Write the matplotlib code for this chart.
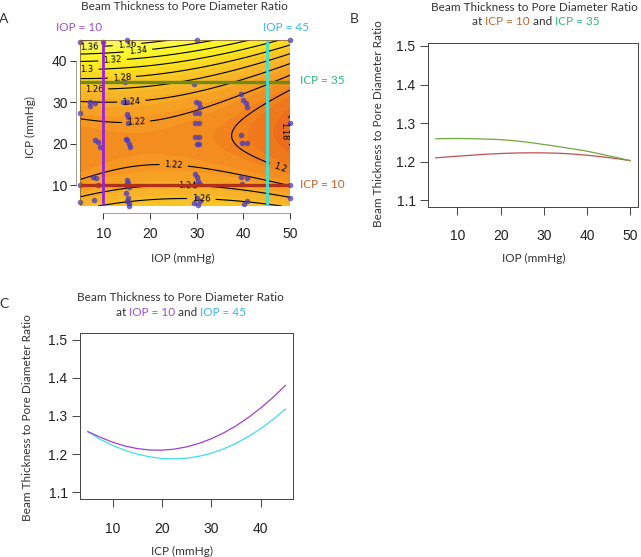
import numpy as np
import matplotlib
matplotlib.use("Agg")
import matplotlib.pyplot as plt
from matplotlib.colors import LinearSegmentedColormap
from matplotlib.patches import Rectangle

W, H = 641, 557

# ---------------- data ----------------
# Panel A: fitted response surface  f(IOP, ICP) = m(IOP) + b(IOP) * (ICP - y0(IOP))^2
surf_m0, surf_mk, surf_mx = 1.2131, 3.67e-5, 18.6      # minimum along ICP: m0 - mk*(IOP-mx)^2
surf_y00, surf_y01 = 18.2, 0.10                         # ICP of minimum: y00 + y01*IOP
surf_b0, surf_b1 = 0.000256, -2.6e-7                    # curvature along ICP: b0 + b1*IOP
contour_levels = [1.18, 1.20, 1.22, 1.24, 1.26, 1.28, 1.30, 1.32, 1.34, 1.36, 1.38]

# observed samples (IOP, ICP)
obs_iop = [5, 10, 15, 30, 50, 14.6, 29.4, 5, 7.1, 8.2, 7.1, 14.3, 15, 15, 15.2, 15.3,
           14.8, 15, 15.4, 15.8, 8.2, 8.9, 9.3, 29.8, 30.5, 30.8, 29.6, 30.5, 29.6, 30.5,
           29.6, 30.5, 30, 30.5, 39.5, 40, 40.5, 40.7, 39.5, 39.8, 40.7,
           7.8, 8.5, 5, 8.8, 8, 5, 15, 15.2, 14.8, 15.5, 14.8, 15.2, 15, 15.6, 15.5,
           29.6, 30, 30.3, 30.7, 29.6, 30, 30.7, 29.4, 30.3, 39.5, 40.7, 39.8, 40.1, 40.8,
           50, 50, 50]
obs_icp = [44.6, 44.6, 45, 45, 45, 35, 34.3, 27.3, 30, 29.9, 29.2, 30.1, 30.1, 27.1, 26.5,
           25.1, 21.2, 21, 20, 19.1, 21, 20.4, 19.2, 30, 29.7, 28.8, 27.3, 27.3, 25.1, 25.1,
           21.6, 21.6, 20, 20, 32, 30.5, 29.7, 28.8, 22, 20.2, 20.2,
           12, 11.8, 10, 10, 6.5, 6, 11.2, 10.6, 10, 9.6, 8.1, 7, 6.2, 5.8, 5,
           12.6, 11.9, 11, 10.4, 10, 6.9, 6.2, 5.7, 5.3, 12, 11.8, 10.2, 5.6, 6.2,
           25, 10, 7]

# Panel B: ratio vs IOP at ICP = 10 and ICP = 35
iop_b = [5, 7.5, 10, 12.5, 15, 17.5, 20, 22.5, 25, 27.5, 30, 32.5, 35, 37.5, 40, 42.5, 45, 47.5, 50]
ratio_icp10 = [1.2097, 1.2120, 1.2140, 1.2160, 1.2180, 1.2197, 1.2210, 1.2220, 1.2226, 1.2228,
               1.2226, 1.2220, 1.2209, 1.2190, 1.2165, 1.2137, 1.2104, 1.2067, 1.2026]
ratio_icp35 = [1.2593, 1.2597, 1.2600, 1.2597, 1.2590, 1.2582, 1.2570, 1.2548, 1.2520, 1.2485,
               1.2444, 1.2405, 1.2360, 1.2318, 1.2270, 1.2212, 1.2150, 1.2090, 1.2026]

# Panel C: ratio vs ICP at IOP = 10 and IOP = 45
icp_c = [5, 7.5, 10, 12.5, 15, 17.5, 20, 22.5, 25, 27.5, 30, 32.5, 35, 37.5, 40, 42.5, 45]
ratio_iop10 = [1.2590, 1.2445, 1.2314, 1.2214, 1.2147, 1.2110, 1.2106, 1.2133, 1.2192, 1.2283,
               1.2405, 1.2558, 1.2744, 1.2961, 1.3209, 1.3489, 1.3801]
ratio_iop45 = [1.2590, 1.2388, 1.2231, 1.2102, 1.2002, 1.1932, 1.1890, 1.1878, 1.1896, 1.1946,
               1.2028, 1.2141, 1.2286, 1.2463, 1.2670, 1.2910, 1.3181]

# ---------------- styling ----------------
TFONT = ['Lato', 'DejaVu Sans']
NFONT = ['Liberation Sans', 'DejaVu Sans']
TXT = '#333333'
PURPLE_L, CYAN_L, GREEN_L, RED_L = '#9b1fe0', '#30e6e6', '#6e8c14', '#b0301a'
PURPLE_T, CYAN_T, GREEN_T, BROWN_T = '#9a4fd0', '#3ab8e6', '#2db87a', '#c0642a'

fig = plt.figure(figsize=(W / 100, H / 100), dpi=100)


def fx(x):
    return x / W


def fy(y):
    return 1 - y / H


def add_axes_px(l, t, r, b):
    return fig.add_axes([fx(l), fy(b), (r - l) / W, (b - t) / H])


def ftext(x, y, s, **kw):
    kw.setdefault('family', TFONT)
    kw.setdefault('color', TXT)
    return fig.text(fx(x), fy(y), s, **kw)


def color_line(xc, ybase, parts, size):
    r = fig.canvas.get_renderer()

    def w(s):
        t = fig.text(0, 0, s + '|', family=TFONT, fontsize=size)
        ww = t.get_window_extent(r).width
        t.remove()
        return ww
    bar = w('')
    total = w(''.join(p for p, _ in parts)) - bar
    x = xc - total / 2
    for s, c in parts:
        fig.text(fx(x), fy(ybase), s, color=c, family=TFONT, fontsize=size,
                 ha='left', va='baseline')
        x += w(s) - bar


def style_ticks(ax, size=10):
    for lab in ax.get_xticklabels() + ax.get_yticklabels():
        lab.set_family(NFONT)
        lab.set_fontsize(size)
        lab.set_color('#222222')


# ---------------- Panel A ----------------
axA = add_axes_px(80, 40, 290, 206)
gx = np.linspace(5, 50, 300)
gy = np.linspace(5, 45, 300)
X, Y = np.meshgrid(gx, gy)
M = surf_m0 - surf_mk * (X - surf_mx) ** 2
Y0 = surf_y00 + surf_y01 * X
B = surf_b0 + surf_b1 * X
Z = M + B * (Y - Y0) ** 2

cmap = LinearSegmentedColormap.from_list('heatish', [
    (0.00, (234 / 255, 100 / 255, 28 / 255)),
    (0.14, (241 / 255, 130 / 255, 30 / 255)),
    (0.24, (245 / 255, 152 / 255, 34 / 255)),
    (0.38, (247 / 255, 180 / 255, 40 / 255)),
    (0.52, (249 / 255, 205 / 255, 35 / 255)),
    (0.62, (250 / 255, 228 / 255, 30 / 255)),
    (0.76, (250 / 255, 245 / 255, 40 / 255)),
    (1.00, (250 / 255, 250 / 255, 110 / 255)),
])
fill_levels = np.arange(1.165, 1.395, 0.01)
axA.contourf(X, Y, Z, levels=fill_levels, cmap=cmap, vmin=1.17, vmax=1.38, extend='both')
cs = axA.contour(X, Y, Z, levels=contour_levels, colors='black', linewidths=0.8)
label_pos = [(15, 44.8), (7, 43.3), (17.5, 41.6), (12, 39.6), (6.5, 37.9), (14, 35.5),
             (8, 33.0), (16, 30.0), (17, 25.6), (25, 13.4), (28, 9.2), (31, 6.7),
             (48, 14.5), (49.7, 23)]
axA.clabel(cs, manual=label_pos, inline=True, fontsize=6,
           fmt=lambda v: f'{round(v, 2):g}', colors='black')

axA.scatter(obs_iop, obs_icp, s=16, color='#4436c8', alpha=0.75, linewidths=0, zorder=3,
            clip_on=False)
axA.axhline(35, color=GREEN_L, lw=2.4, zorder=4)
axA.axhline(10, color=RED_L, lw=2.4, zorder=4)
axA.axvline(10, color=PURPLE_L, lw=2.0, zorder=5)
axA.axvline(45, color=CYAN_L, lw=2.0, zorder=5)
axA.set_xlim(5, 50)
axA.set_ylim(5, 45)
axA.set_xticks([10, 20, 30, 40, 50])
axA.set_yticks([10, 20, 30, 40])
for s in axA.spines.values():
    s.set_visible(False)
axA.spines['bottom'].set_visible(True)
axA.spines['bottom'].set_position(('outward', 5))
axA.spines['bottom'].set_bounds(10, 50)
axA.spines['bottom'].set_linewidth(0.5)
axA.spines['bottom'].set_color('#777777')
axA.spines['left'].set_visible(True)
axA.spines['left'].set_position(('outward', 3))
axA.spines['left'].set_bounds(10, 40)
axA.spines['left'].set_linewidth(0.5)
axA.spines['left'].set_color('#777777')
axA.add_patch(Rectangle((0, 0), 1, 1, transform=axA.transAxes, fill=False,
                        ec='#8a6a40', lw=0.6, zorder=6))
axA.tick_params(axis='both', direction='out', length=4, width=0.7, color='#333333', pad=2)
axA.tick_params(axis='x', pad=6)
style_ticks(axA)

ftext(184, 6, 'Beam Thickness to Pore Diameter Ratio', ha='center', va='center', fontsize=8.5)
ftext(3.5, 19, 'A', ha='center', va='center', fontsize=10)
ftext(102, 27.5, 'IOP = 10', ha='right', va='center', fontsize=8.5, color=PURPLE_T)
ftext(263, 27.5, 'IOP = 45', ha='left', va='center', fontsize=8.5, color=CYAN_T)
ftext(300, 81, 'ICP = 35', ha='left', va='center', fontsize=8.5, color=GREEN_T)
ftext(300, 184, 'ICP = 10', ha='left', va='center', fontsize=8.5, color=BROWN_T)
ftext(183, 258, 'IOP (mmHg)', ha='center', va='center', fontsize=8.5)
ftext(30, 127, 'ICP (mmHg)', ha='center', va='center', fontsize=8.5, rotation=90)

# ---------------- Panel B ----------------
axB = add_axes_px(428, 43.3, 638, 206.7)
axB.plot(iop_b, ratio_icp10, color='#c05050', lw=0.9)
axB.plot(iop_b, ratio_icp35, color='#70a83c', lw=0.9)
axB.set_xlim(3.2, 51.8)
axB.set_ylim(1.083, 1.507)
axB.set_xticks([10, 20, 30, 40, 50])
axB.set_yticks([1.1, 1.2, 1.3, 1.4, 1.5])
axB.set_yticklabels(['1.1', '1.2', '1.3', '1.4', '1.5'])
for s in axB.spines.values():
    s.set_linewidth(0.7)
    s.set_color('#444444')
axB.tick_params(axis='both', direction='out', length=6, width=0.7, color='#444444', pad=3)
axB.tick_params(axis='x', pad=10)
style_ticks(axB)

ftext(354, 19, 'B', ha='center', va='center', fontsize=10)
ftext(534, 7.5, 'Beam Thickness to Pore Diameter Ratio', ha='center', va='center', fontsize=8.5)
color_line(536, 25, [('at ', TXT), ('ICP = 10', BROWN_T), (' and ', TXT), ('ICP = 35', GREEN_T)], 8.5)
ftext(534, 258, 'IOP (mmHg)', ha='center', va='center', fontsize=8.5)
ftext(379, 124, 'Beam Thickness to Pore Diameter Ratio', ha='center', va='center',
      fontsize=8.5, rotation=90)

# ---------------- Panel C ----------------
axC = add_axes_px(80, 332.7, 293.3, 499.3)
axC.plot(icp_c, ratio_iop45, color='#40e0e8', lw=0.9)
axC.plot(icp_c, ratio_iop10, color='#a040d0', lw=0.9)
axC.set_xlim(3.4, 46.6)
axC.set_ylim(1.082, 1.518)
axC.set_xticks([10, 20, 30, 40])
axC.set_yticks([1.1, 1.2, 1.3, 1.4, 1.5])
axC.set_yticklabels(['1.1', '1.2', '1.3', '1.4', '1.5'])
for s in axC.spines.values():
    s.set_linewidth(0.7)
    s.set_color('#444444')
axC.tick_params(axis='both', direction='out', length=6, width=0.7, color='#444444', pad=3)
axC.tick_params(axis='x', pad=10)
style_ticks(axC)

ftext(3.5, 304, 'C', ha='center', va='center', fontsize=10)
ftext(180, 297.5, 'Beam Thickness to Pore Diameter Ratio', ha='center', va='center', fontsize=8.5)
color_line(181, 316, [('at ', TXT), ('IOP = 10', PURPLE_T), (' and ', TXT), ('IOP = 45', CYAN_T)], 8.5)
ftext(182, 551.5, 'ICP (mmHg)', ha='center', va='center', fontsize=8.5)
ftext(27.5, 418, 'Beam Thickness to Pore Diameter Ratio', ha='center', va='center',
      fontsize=8.5, rotation=90)

fig.savefig('out.png', dpi=100)
